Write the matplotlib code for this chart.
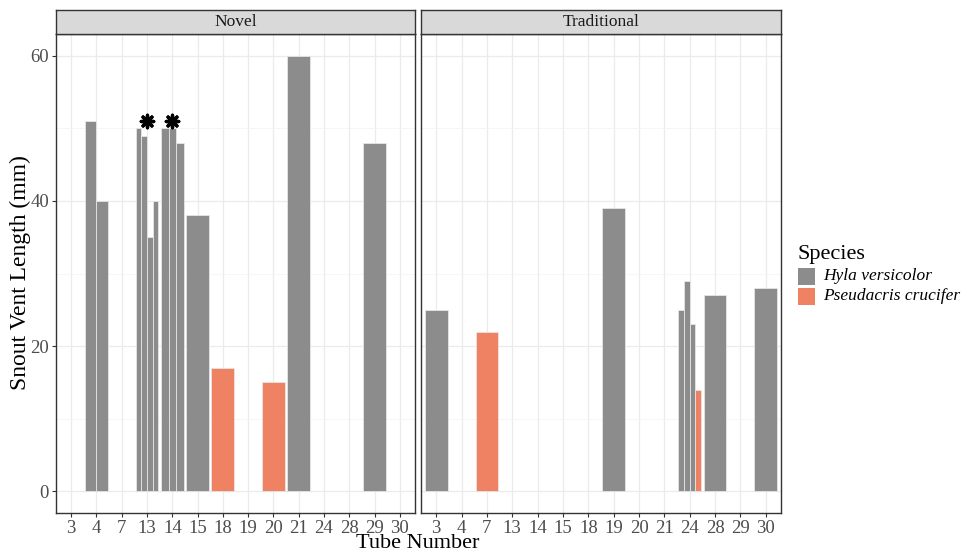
import matplotlib
matplotlib.use("Agg")
import matplotlib.pyplot as plt
from matplotlib.patches import Rectangle

plt.rcParams['font.family'] = ['Liberation Serif', 'DejaVu Serif']

# tube levels shown on both panels (discrete x axis)
tubes = ["3", "4", "7", "13", "14", "15", "18", "19", "20", "21", "24", "28", "29", "30"]

# frogs found per tube: (tube, snout vent length, species)
novel_tube = ["4", "4", "13", "13", "13", "13", "14", "14", "14", "15", "18", "20", "21", "29"]
novel_svl = [51, 40, 50, 49, 35, 40, 50, 50, 48, 38, 17, 15, 60, 48]
novel_sp = ["H", "H", "H", "H", "H", "H", "H", "H", "H", "H", "P", "P", "H", "H"]

trad_tube = ["3", "7", "19", "24", "24", "24", "24", "28", "30"]
trad_svl = [25, 22, 39, 25, 29, 23, 14, 27, 28]
trad_sp = ["H", "P", "H", "H", "H", "H", "P", "H", "H"]

# asterisks over tubes in the novel panel
star_tubes = ["13", "14"]
star_y = 51

species_names = {"H": "Hyla versicolor", "P": "Pseudacris crucifer"}
colors = {"H": "#8C8C8C", "P": "#EE8262"}

W, H = 963, 553
fig = plt.figure(figsize=(W / 100, H / 100), dpi=100)


def px(x0, y0, x1, y1):
    return [x0 / W, 1 - y1 / H, (x1 - x0) / W, (y1 - y0) / H]


def draw_panel(ax, tube, svl, sp, show_y):
    # dodge bars sharing a tube, total width 0.9
    groups = {}
    for i, t in enumerate(tube):
        groups.setdefault(t, []).append(i)
    for t, idx in groups.items():
        n = len(idx)
        w = 0.9 / n
        center = tubes.index(t) + 1
        for k, i in enumerate(idx):
            left = center - 0.45 + k * w
            ax.bar(left, svl[i], width=w, align="edge", color=colors[sp[i]],
                   edgecolor="#E6E6E6", linewidth=0.6, zorder=3)
    ax.set_xlim(0.4, len(tubes) + 0.6)
    ax.set_ylim(-3, 63)
    ax.set_xticks(range(1, len(tubes) + 1))
    ax.set_xticklabels(tubes)
    ax.set_yticks([0, 20, 40, 60])
    ax.set_yticks([10, 30, 50], minor=True)
    ax.grid(True, which="major", color="#EBEBEB", linewidth=0.9, zorder=0)
    ax.grid(True, which="minor", axis="y", color="#F3F3F3", linewidth=0.5, zorder=0)
    ax.tick_params(axis="both", which="major", length=3, width=0.8, color="#333333",
                   labelsize=13.5, labelcolor="#4D4D4D", pad=2)
    ax.tick_params(axis="both", which="minor", length=0)
    if not show_y:
        ax.tick_params(axis="y", which="both", left=False, labelleft=False)
    for s in ax.spines.values():
        s.set_color("#333333")
        s.set_linewidth(1.0)
    ax.set_axisbelow(True)


ax1 = fig.add_axes(px(56, 34, 415, 513))
ax2 = fig.add_axes(px(421, 34, 781, 513))
draw_panel(ax1, novel_tube, novel_svl, novel_sp, True)
draw_panel(ax2, trad_tube, trad_svl, trad_sp, False)

ax1.scatter([tubes.index(t) + 1 for t in star_tubes], [star_y] * len(star_tubes),
            marker=(8, 2, 0), s=80, linewidths=2.4, color="black", zorder=5)

# facet strips
for (x0, x1), label in [((56, 415), "Novel"), ((421, 781), "Traditional")]:
    sax = fig.add_axes(px(x0, 10, x1, 34))
    sax.set_xticks([])
    sax.set_yticks([])
    sax.set_facecolor("#D9D9D9")
    for s in sax.spines.values():
        s.set_color("#333333")
        s.set_linewidth(1.0)
    sax.text(0.5, 0.5, label, ha="center", va="center", fontsize=12.5,
             color="#1A1A1A", transform=sax.transAxes)

fig.text(20 / W, 1 - 273 / H, "Snout Vent Length (mm)", rotation=90,
         ha="center", va="center", fontsize=17)
fig.text(418 / W, 1 - 543 / H, "Tube Number", ha="center", va="center", fontsize=16)

# legend
fig.text(797 / W, 1 - 254 / H, "Species", ha="left", va="center", fontsize=16)
for j, key in enumerate(["H", "P"]):
    y0 = 268 + j * 20
    fig.patches.append(Rectangle((798 / W, 1 - (y0 + 17) / H), 17 / W, 17 / H,
                                 transform=fig.transFigure, facecolor=colors[key],
                                 edgecolor="none"))
    fig.text(823 / W, 1 - (y0 + 8.5) / H, species_names[key], ha="left", va="center",
             fontsize=12.5, style="italic")

fig.savefig("out.png", dpi=100)
